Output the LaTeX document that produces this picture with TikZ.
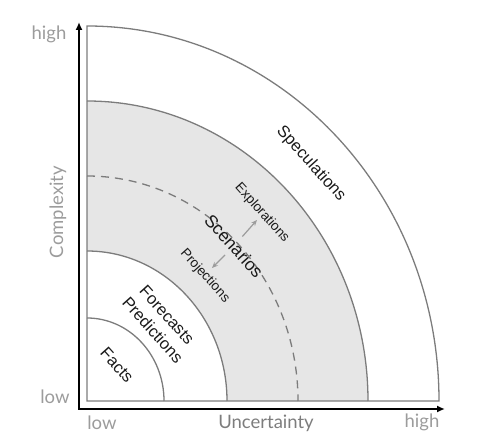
\documentclass[tikz,border=0pt]{standalone}
\usepackage{fontspec}
\setmainfont{Liberation Sans}
\newfontfamily\axisfont{Lato}
\usepackage{tikz}
\usetikzlibrary{arrows.meta, positioning}

\definecolor{ringgray}{HTML}{E6E6E6}
\definecolor{linegray}{HTML}{7C7C7C}
\definecolor{axisgray}{HTML}{9C9C9C}
\definecolor{inkgray}{HTML}{1A1A1A}

\begin{document}
\begin{tikzpicture}[x=1pt, y=1pt,
  arc line/.style={draw=linegray, line width=1.3pt},
  axis/.style={line width=2.8pt, {Latex[length=8pt,width=7pt]}-{Latex[length=8pt,width=7pt]}},
  zone/.style={font=\fontsize{16.5}{18}\selectfont, text=inkgray, rotate=-48, inner sep=0pt},
  subzone/.style={zone, font=\fontsize{13.5}{15}\selectfont},
  spread/.style={draw=axisgray, line width=1.2pt, -{Stealth[length=6pt,width=5pt]}},
  scale label/.style={font=\axisfont\fontsize{18.5}{20}\selectfont, text=axisgray, inner sep=0pt}]

  \useasboundingbox (0,0) rectangle (489,441);

  % Rings round the origin
  \begin{scope}[shift={(87,40)}]
    \fill[ringgray] (0,300) arc[start angle=90, end angle=0, x radius=281, y radius=300]
      -- (140,0) arc[start angle=0, end angle=90, x radius=140, y radius=150] -- cycle;
    \draw[arc line, dash pattern=on 8pt off 6pt] (0,225) arc[start angle=90, end angle=0, x radius=211, y radius=225];
    \foreach \rx/\ry in {77/83, 140/150, 281/300}
      \draw[arc line] (0,\ry) arc[start angle=90, end angle=0, x radius=\rx, y radius=\ry];
    \draw[arc line] (0,0) -- (0,375) arc[start angle=90, end angle=0, x radius=352, y radius=375] -- cycle;
  \end{scope}

  % Axes
  \coordinate (origin) at (79,32);
  \coordinate (ytip) at (79,419);
  \coordinate (xtip) at (445,32);
  \draw[axis] (ytip) -- (origin) -- (xtip);

  \node[scale label] (ylow) at (55,44) {low};
  \node[scale label] (yhigh) at (49,407) {high};
  \node[scale label, rotate=90] (complexity) at (58,229) {Complexity};
  \node[scale label] (xlow) at (102,18) {low};
  \node[scale label, text=axisgray!80!black] (uncertainty) at (266,18) {Uncertainty};
  \node[scale label] (xhigh) at (422,19) {high};

  % Zone labels
  \node[zone] (facts) at (117,76) {Facts};
  \node[zone] (forecasts) at (167,126) {Forecasts};
  \node[zone] (predictions) at (153,111) {Predictions};
  \node[subzone] (projections) at (205,165) {Projections};
  \node[zone, font=\fontsize{17.5}{19}\selectfont, inner sep=6pt] (scenarios) at (234,195) {Scenarios};
  \node[subzone] (explorations) at (262,228) {Explorations};
  \node[zone] (speculations) at (311,277) {Speculations};

  \coordinate (toexpl) at (257,221);
  \coordinate (toproj) at (212,173);
  \draw[spread] (scenarios) -- (toexpl);
  \draw[spread] (scenarios) -- (toproj);

\end{tikzpicture}
\end{document}
